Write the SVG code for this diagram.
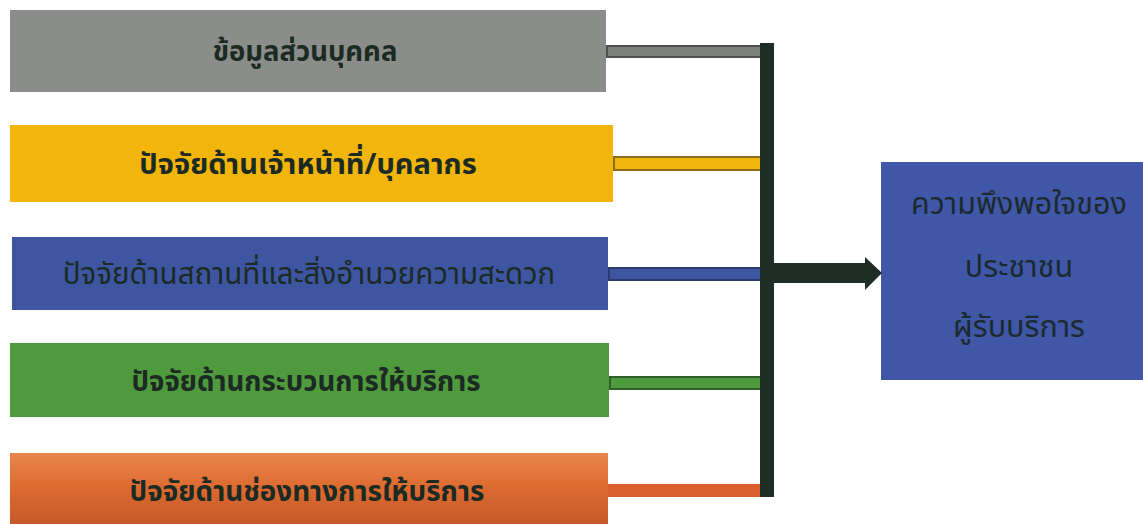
<svg xmlns="http://www.w3.org/2000/svg" width="1143" height="524" viewBox="0 0 1143 524">
<defs>
<linearGradient id="og" x1="0" y1="0" x2="0" y2="1">
<stop offset="0" stop-color="#e8874a"/>
<stop offset="0.5" stop-color="#dd6a30"/>
<stop offset="1" stop-color="#c45a2a"/>
</linearGradient>
<style>
.t{font-family:"Noto Sans Thai","Noto Sans","DejaVu Sans",sans-serif;font-size:29px;fill:#1c2a24;text-anchor:middle;font-weight:bold}
.r{font-family:"Noto Sans Thai","Noto Sans","DejaVu Sans",sans-serif;font-size:30.5px;fill:#1c2a30;text-anchor:middle}
.c{stroke-width:2}
</style>
</defs>
<rect width="1143" height="524" fill="#ffffff"/>
<g id="n1"><rect x="10" y="10" width="596" height="82" fill="#8b8d8a"/><text class="t" x="305" y="61" style="font-size:27.5px">ข้อมูลส่วนบุคคล</text></g>
<g id="n2"><rect x="10" y="125" width="603" height="77" fill="#f1b50c"/><text class="t" x="308" y="174">ปัจจัยด้านเจ้าหน้าที่/บุคลากร</text></g>
<g id="n3"><rect x="12" y="237" width="596" height="73" fill="#3e56a2"/><text class="t" x="309" y="284" style="font-weight:normal;font-size:29.5px">ปัจจัยด้านสถานที่และสิ่งอำนวยความสะดวก</text></g>
<g id="n4"><rect x="10" y="343" width="599" height="74" fill="#4f9a3c"/><text class="t" x="306" y="391" style="font-size:27.6px">ปัจจัยด้านกระบวนการให้บริการ</text></g>
<g id="n5"><rect x="10" y="453" width="598" height="71" fill="url(#og)"/><text class="t" x="307" y="501" style="font-size:27.8px">ปัจจัยด้านช่องทางการให้บริการ</text></g>
<g id="n6"><rect x="881" y="162" width="262" height="218" fill="#3f57a6"/>
<text class="r" x="1019" y="214">ความพึงพอใจของ</text>
<text class="r" x="1019" y="277">ประชาชน</text>
<text class="r" x="1019" y="337">ผู้รับบริการ</text></g>
<g id="connectors">
<rect class="c" x="607" y="46" width="154" height="11" fill="#7c807c" stroke="#4e534f"/>
<rect class="c" x="614" y="157" width="147" height="13" fill="#f1b50c" stroke="#8a6d1a"/>
<rect class="c" x="609" y="268" width="152" height="12" fill="#3e56a2" stroke="#2c3b70"/>
<rect class="c" x="610" y="377" width="151" height="12" fill="#4f9a3c" stroke="#2f5e2a"/>
<rect x="608" y="484" width="153" height="13" fill="#d9602e"/>
<rect x="760" y="43" width="14" height="454" fill="#1e2e27"/>
<polygon points="774,263 865,263 865,257 882,273 865,290 865,283 774,283" fill="#1e2e27"/>
</g>
</svg>
